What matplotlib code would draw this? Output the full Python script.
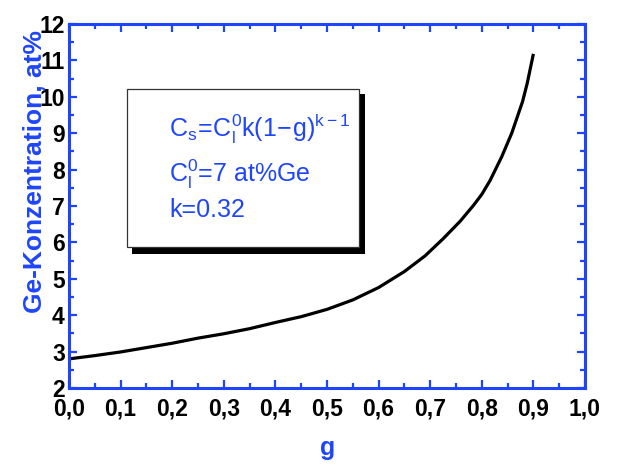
import matplotlib
matplotlib.use("Agg")
import matplotlib.pyplot as plt
from matplotlib.patches import Rectangle
from matplotlib.ticker import FixedLocator, FuncFormatter

plt.rcParams['font.family'] = ['Liberation Sans', 'DejaVu Sans']
plt.rcParams['mathtext.fontset'] = 'custom'
plt.rcParams['mathtext.rm'] = 'Liberation Sans'
plt.rcParams['mathtext.it'] = 'Liberation Sans:italic'
plt.rcParams['mathtext.bf'] = 'Liberation Sans:bold'

# data
g_values = [0.0, 0.05, 0.10, 0.15, 0.20, 0.25, 0.30, 0.35, 0.40, 0.45, 0.50,
            0.55, 0.60, 0.65, 0.69, 0.725, 0.758, 0.784, 0.80, 0.816, 0.8385,
            0.858, 0.879, 0.888, 0.90]
ge_conc = [2.80, 2.89, 2.99, 3.11, 3.23, 3.37, 3.49, 3.63, 3.80, 3.96, 4.16,
           4.42, 4.76, 5.20, 5.63, 6.10, 6.58, 7.02, 7.32, 7.70, 8.35,
           9.00, 9.87, 10.37, 11.18]
x_ticks = [0.0, 0.1, 0.2, 0.3, 0.4, 0.5, 0.6, 0.7, 0.8, 0.9, 1.0]
y_ticks = [2, 3, 4, 5, 6, 7, 8, 9, 10, 11, 12]
x_label = "g"
y_label = "Ge-Konzentration, at%"
box_lines = [r"$\mathregular{C_s\!=\!C_l^0k(1\!-\!g)^{k-1}}$",
             r"$\mathregular{C_l^0}$=7 at%Ge",
             "k=0.32"]

BLUE = '#1f45fc'
W, H = 617, 466
fig = plt.figure(figsize=(W / 100, H / 100), dpi=100)
ax = fig.add_axes([69 / W, 1 - 388 / H, (585 - 69) / W, (388 - 24) / H])

ax.plot(g_values, ge_conc, color='black', lw=2.3, solid_capstyle='butt',
        solid_joinstyle='round')
ax.set_xlim(0, 1.0)
ax.set_ylim(2, 12)

ax.xaxis.set_major_locator(FixedLocator(x_ticks))
ax.yaxis.set_major_locator(FixedLocator(y_ticks))
ax.xaxis.set_minor_locator(FixedLocator([t + 0.05 for t in x_ticks[:-1]]))
ax.yaxis.set_minor_locator(FixedLocator([t + 0.5 for t in y_ticks[:-1]]))
ax.xaxis.set_major_formatter(FuncFormatter(lambda v, p: f"{v:.1f}".replace('.', ',')))
ax.yaxis.set_major_formatter(FuncFormatter(lambda v, p: f"{v:.0f}"))

for s in ax.spines.values():
    s.set_color(BLUE)
    s.set_linewidth(2.2)
ax.tick_params(which='both', direction='in', top=True, right=True,
               color=BLUE, width=1.6, labelcolor='black')
ax.tick_params(which='major', length=6)
ax.tick_params(which='minor', length=3.5)
ax.tick_params(axis='x', which='major', pad=7)
ax.tick_params(axis='y', which='major', pad=3)
for lab in ax.get_xticklabels() + ax.get_yticklabels():
    lab.set_fontsize(16.5)
    lab.set_fontweight('bold')

# axis labels
fig.text(35 / W, 1 - 171.5 / H, y_label, rotation=90, ha='center', va='center',
         color=BLUE, fontsize=19, fontweight='bold')
fig.text(328 / W, 1 - 455 / H, x_label, ha='center', va='baseline',
         color=BLUE, fontsize=18, fontweight='bold')

# text box with shadow
def px_rect(x0, y0, x1, y1, **kw):
    return Rectangle((x0 / W, 1 - y1 / H), (x1 - x0) / W, (y1 - y0) / H,
                     transform=fig.transFigure, **kw)

fig.patches.append(px_rect(132, 94, 365, 254, facecolor='black', edgecolor='none', zorder=5))
fig.patches.append(px_rect(127.3, 89, 359.3, 246.7, facecolor='white',
                           edgecolor='#333333', linewidth=0.9, zorder=6))

for txt, yb in zip(box_lines, [136.7, 181.7, 216.7]):
    fig.text(169 / W, 1 - yb / H, txt, ha='left', va='baseline', color=BLUE,
             fontsize=18, zorder=7)

fig.savefig("out.png", dpi=100)
